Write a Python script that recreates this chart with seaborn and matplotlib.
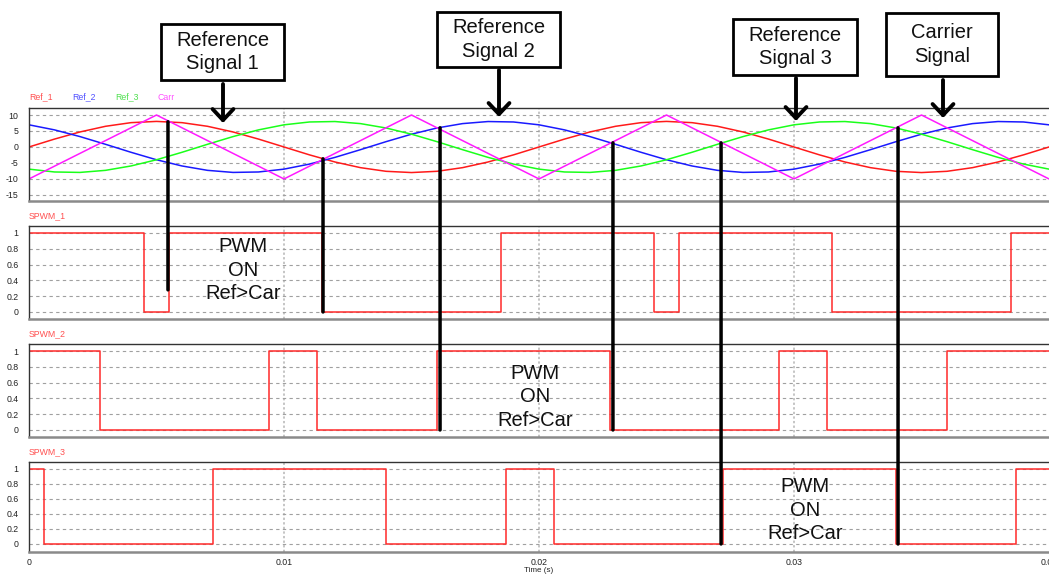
import numpy as np
import pandas as pd
import matplotlib
matplotlib.use("Agg")
import matplotlib.pyplot as plt
from matplotlib.patches import Rectangle, FancyArrowPatch, ConnectionPatch
import seaborn as sns

# ---------------- data ----------------
t_step = 0.001
n_samples = 41  # 0 .. 0.04 s

ref_1 = [0.00, 2.47, 4.70, 6.47, 7.61, 8.00, 7.61, 6.47, 4.70, 2.47,
         0.00, -2.47, -4.70, -6.47, -7.61, -8.00, -7.61, -6.47, -4.70, -2.47,
         0.00, 2.47, 4.70, 6.47, 7.61, 8.00, 7.61, 6.47, 4.70, 2.47,
         0.00, -2.47, -4.70, -6.47, -7.61, -8.00, -7.61, -6.47, -4.70, -2.47,
         0.00]
ref_2 = [6.93, 5.35, 3.25, 0.84, -1.66, -4.00, -5.94, -7.31, -7.96, -7.82,
         -6.93, -5.35, -3.25, -0.84, 1.66, 4.00, 5.94, 7.31, 7.96, 7.82,
         6.93, 5.35, 3.25, 0.84, -1.66, -4.00, -5.94, -7.31, -7.96, -7.82,
         -6.93, -5.35, -3.25, -0.84, 1.66, 4.00, 5.94, 7.31, 7.96, 7.82,
         6.93]
ref_3 = [-6.93, -7.82, -7.96, -7.31, -5.94, -4.00, -1.66, 0.84, 3.25, 5.35,
         6.93, 7.82, 7.96, 7.31, 5.94, 4.00, 1.66, -0.84, -3.25, -5.35,
         -6.93, -7.82, -7.96, -7.31, -5.94, -4.00, -1.66, 0.84, 3.25, 5.35,
         6.93, 7.82, 7.96, 7.31, 5.94, 4.00, 1.66, -0.84, -3.25, -5.35,
         -6.93]

carr_t = [0.0, 0.005, 0.01, 0.015, 0.02, 0.025, 0.03, 0.035, 0.04]
carr_v = [-10, 10, -10, 10, -10, 10, -10, 10, -10]

# switching instants of the gate signals (each starts ON)
spwm_1_edges = [0.0045, 0.0055, 0.0115, 0.0185, 0.0245, 0.0255, 0.0315, 0.0385]
spwm_2_edges = [0.0028, 0.0094, 0.0113, 0.0160, 0.0228, 0.0294, 0.0313, 0.0360]
spwm_3_edges = [0.0006, 0.0072, 0.0140, 0.0187, 0.0206, 0.0272, 0.0340, 0.0387]

x_ticks = [0, 0.01, 0.02, 0.03, 0.04]
x_tick_labels = ["0", "0.01", "0.02", "0.03", "0.04"]
ref_ticks = [-15, -10, -5, 0, 5, 10]
pwm_ticks = [0, 0.2, 0.4, 0.6, 0.8, 1]
pwm_tick_labels = ["0", "0.2", "0.4", "0.6", "0.8", "1"]

# ---------------- style ----------------
sns.set_style("white")
plt.rcParams["font.family"] = ["Liberation Sans", "DejaVu Sans"]

W, H = 1049, 574
fig = plt.figure(figsize=(W / 100, H / 100), dpi=100)


def fx(px):
    return px / W


def fy(py):
    return 1 - py / H


def add_axes(top, bottom):
    return fig.add_axes([fx(29), fy(bottom), 1 - fx(29), (bottom - top) / H])


ax0 = add_axes(107.5, 201)
ax1 = add_axes(225.7, 319)
ax2 = add_axes(344, 437)
ax3 = add_axes(462, 552)

t = np.arange(n_samples) * t_step
ref_df = pd.DataFrame({"t": t, "Ref_1": ref_1, "Ref_2": ref_2, "Ref_3": ref_3})
carr_df = pd.DataFrame({"t": carr_t, "Carr": carr_v})

line_colors = {"Ref_1": "#ff1a1a", "Ref_2": "#1a1aff", "Ref_3": "#1aff1a", "Carr": "#ff1aff"}
label_colors = {"Ref_1": "#ff5050", "Ref_2": "#5050ff", "Ref_3": "#50e050", "Carr": "#ff50ff"}

for name in ["Ref_1", "Ref_2", "Ref_3"]:
    sns.lineplot(data=ref_df, x="t", y=name, ax=ax0, color=line_colors[name],
                 lw=1.1, sort=False, legend=False)
sns.lineplot(data=carr_df, x="t", y="Carr", ax=ax0, color=line_colors["Carr"],
             lw=1.1, sort=False, legend=False)

pwm_axes = [ax1, ax2, ax3]
pwm_sets = [spwm_1_edges, spwm_2_edges, spwm_3_edges]
pwm_names = ["SPWM_1", "SPWM_2", "SPWM_3"]
for ax, edges in zip(pwm_axes, pwm_sets):
    times = [0.0] + edges + [0.04]
    levels = [(i + 1) % 2 for i in range(len(edges) + 1)]
    levels = levels + [levels[-1]]
    df = pd.DataFrame({"t": times, "v": levels})
    sns.lineplot(data=df, x="t", y="v", ax=ax, color="#ff2a2a", lw=1.1,
                 drawstyle="steps-post", sort=False, legend=False)

# ---------------- axes cosmetics ----------------
for ax in [ax0] + pwm_axes:
    ax.set_xlim(0, 0.04)
    ax.set_xlabel("")
    ax.set_ylabel("")
    ax.set_xticks(x_ticks)
    ax.tick_params(axis="both", length=0, labelsize=6.3, colors="#222222")
    ax.tick_params(axis="y", pad=7.5)
    for xv in [0.01, 0.02, 0.03]:
        ax.axvline(xv, color="#b5b5b5", lw=1.1, ls=(0, (1.5, 1.5)), zorder=0)
    ax.spines["right"].set_visible(False)
    ax.spines["top"].set_color("#333333")
    ax.spines["top"].set_linewidth(1.0)
    ax.spines["left"].set_color("#333333")
    ax.spines["left"].set_linewidth(1.0)
    ax.spines["bottom"].set_color("#8a8a8a")
    ax.spines["bottom"].set_linewidth(1.8)

ax0.set_ylim(-16.9, 12.35)
ax0.set_yticks(ref_ticks)
ax0.set_yticklabels([str(v) for v in ref_ticks])
for v in ref_ticks:
    ax0.axhline(v, color="#a0a0a0", lw=0.8, ls=(0, (3, 3)), zorder=0)

for ax, lo, hi in [(ax1, -0.089, 1.092), (ax2, -0.089, 1.089), (ax3, -0.107, 1.093)]:
    ax.set_ylim(lo, hi)
    ax.set_yticks(pwm_ticks)
    ax.set_yticklabels(pwm_tick_labels)
    for v in pwm_ticks:
        ax.axhline(v, color="#a0a0a0", lw=0.8, ls=(0, (3, 3)), zorder=0)

for ax in [ax0, ax1, ax2]:
    ax.set_xticklabels([])
ax3.set_xticklabels(x_tick_labels)
ax3.tick_params(axis="x", pad=4)
ax3.set_xlabel("Time (s)", fontsize=5.8, labelpad=0.5, color="#222222")

# series captions above the panels
for name, xpx in zip(["Ref_1", "Ref_2", "Ref_3", "Carr"], [29, 72, 115, 157]):
    fig.text(fx(xpx), fy(97), name, color=label_colors[name], fontsize=6.3,
             ha="left", va="center")
for name, ypx in zip(pwm_names, [216, 334, 452]):
    fig.text(fx(29), fy(ypx), name, color="#ff5050", fontsize=6.3,
             ha="left", va="center")

# ---------------- call-out boxes with arrows ----------------
boxes = [
    ("Reference\nSignal 1", 161, 24, 284, 80, 223, 84, 123),
    ("Reference\nSignal 2", 437, 12, 560, 67, 499, 70, 117),
    ("Reference\nSignal 3", 733, 19, 857, 75, 796, 78, 121),
    ("Carrier\nSignal", 886, 13, 998, 76, 943, 80, 118),
]
for text, x0, y0, x1, y1, ax_px, a0, a1 in boxes:
    fig.add_artist(Rectangle((fx(x0), fy(y1)), fx(x1 - x0), (y1 - y0) / H,
                             transform=fig.transFigure, fill=False,
                             edgecolor="black", lw=2.0))
    fig.text(fx((x0 + x1) / 2), fy((y0 + y1) / 2), text, fontsize=14.5,
             ha="center", va="center", multialignment="center",
             linespacing=1.28, color="#111111")
    fig.add_artist(FancyArrowPatch((fx(ax_px), fy(a0)), (fx(ax_px), fy(a1)),
                                   transform=fig.transFigure,
                                   arrowstyle="->,head_length=8,head_width=7.5",
                                   lw=2.8, color="black", shrinkA=0, shrinkB=0))

# ---------------- comparator markers ----------------
markers = [
    (0.00545, 7.9, ax1, 0.28),
    (0.01153, -3.7, ax1, 0.0),
    (0.01612, 6.0, ax2, 0.0),
    (0.0229, 1.3, ax2, 0.0),
    (0.02714, 1.3, ax3, 0.0),
    (0.03408, 6.0, ax3, 0.0),
]
for tt, va, axb, vb in markers:
    con = ConnectionPatch(xyA=(tt, va), coordsA=ax0.transData,
                          xyB=(tt, vb), coordsB=axb.transData,
                          color="black", lw=2.5)
    fig.add_artist(con)

for xpx, ypx in [(243, 270), (535, 397), (805, 510)]:
    fig.text(fx(xpx), fy(ypx), "PWM\nON\nRef>Car", fontsize=14.5,
             ha="center", va="center", multialignment="center",
             linespacing=1.3, color="#111111")

fig.savefig("out.png", dpi=100)
